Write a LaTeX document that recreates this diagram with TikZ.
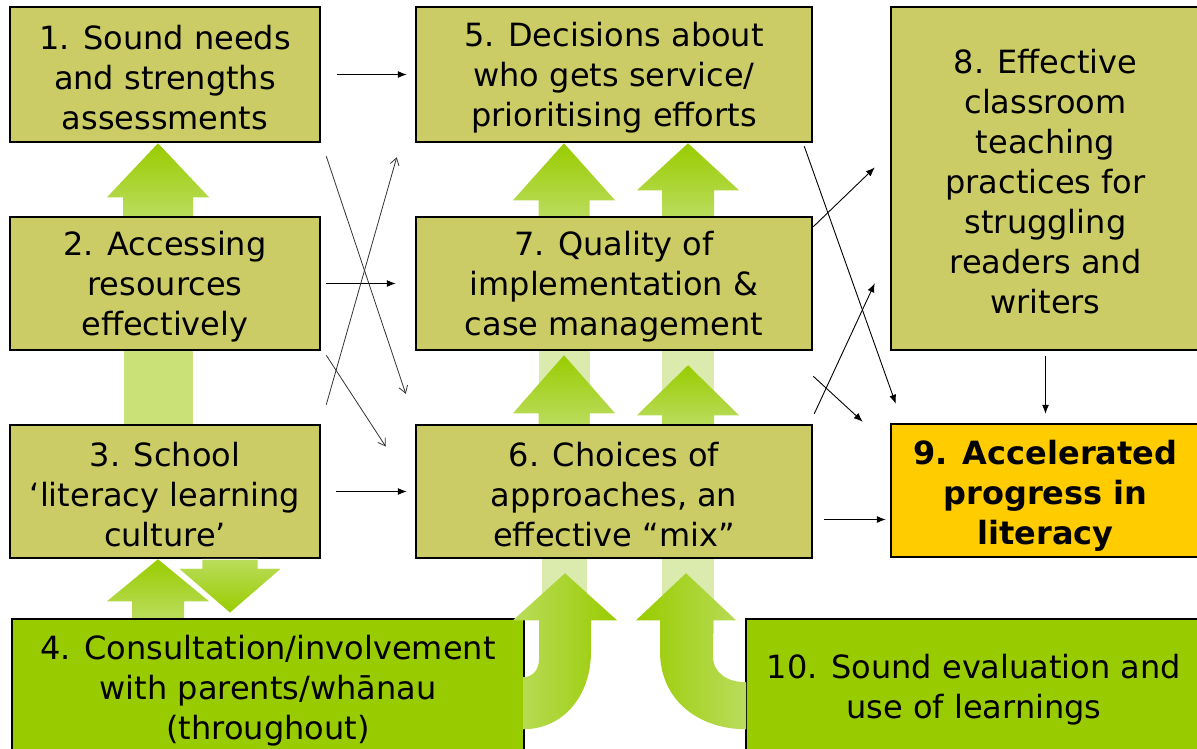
\documentclass[tikz,border=0pt]{standalone}
\usepackage{fontspec}
\setmainfont{DejaVu Sans}
\usepackage{xcolor}
\usepackage{tikz}
\usetikzlibrary{arrows.meta,calc,positioning}

\definecolor{boxolive}{HTML}{CCCC66}
\definecolor{boxgold}{HTML}{FFCC00}
\definecolor{boxgreen}{HTML}{99CC00}
\definecolor{arrowdark}{HTML}{99CC00}
\definecolor{arrowlight}{HTML}{BADC5C}
\definecolor{stripmid}{HTML}{DAEBAD}
\definecolor{stripleft}{HTML}{C9E177}

\newcommand{\boxfont}{\fontsize{32}{40}\selectfont}
\newcommand{\topgap}[1][30pt]{\rule{0pt}{#1}}
\newcommand{\fatarrow}[6]{%
	\path[#1] let \p1=(#2), \p2=(#3) in
	(\x1-#5pt,\y1) -- (\x1-#5pt,{\y2-(#4pt)}) -- (\x1-#6pt,{\y2-(#4pt)}) -- (\x1,\y2)
	-- (\x1+#6pt,{\y2-(#4pt)}) -- (\x1+#5pt,{\y2-(#4pt)}) -- (\x1+#5pt,\y1) -- cycle;}

\begin{document}
\begin{tikzpicture}[x=1pt, y=-1pt]
			\tikzstyle{box}=[draw=black, line width=2.5pt, fill=boxolive, align=center, inner sep=0pt, font=\boxfont]
			\tikzstyle{link}=[color=black, line width=0.9pt, -{Latex[length=9pt,width=7pt]}]
			\tikzstyle{cross}=[color=black!80, line width=0.8pt, -{Straight Barb[length=7pt,width=9pt]}]
			\tikzstyle{fatup}=[top color=arrowdark, bottom color=arrowlight]
			\tikzstyle{fatdown}=[top color=arrowlight, bottom color=arrowdark, draw=white, line width=0.8pt]
			\tikzstyle{uleft}=[left color=arrowlight, right color=arrowdark]
			\tikzstyle{uright}=[left color=arrowdark, right color=arrowlight]
			
			\useasboundingbox (0,0) rectangle (1197,748);
			
			\node[box, minimum width=310pt, minimum height=135pt] (1) at (165,74.5) {\topgap 1. Sound needs\\and strengths\\assessments};
			\node[box, minimum width=310pt, minimum height=133pt] (2) at (165,283.5) {\topgap 2. Accessing\\resources\\effectively};
			\node[box, minimum width=310pt, minimum height=133pt] (3) at (165,491.5) {\topgap 3. School\\‘literacy learning\\culture’};
			\node[box, fill=boxgreen, minimum width=512pt, minimum height=136pt] (4) at (268,687) {\topgap[31pt]4. Consultation/involvement\\with parents/whānau\\(throughout)};
			
			\node[box, minimum width=396pt, minimum height=135pt] (5) at (614,74.5) {\topgap 5. Decisions about\\who gets service/\\prioritising efforts};
			\node[box, minimum width=396pt, minimum height=133pt] (7) at (614,283.5) {\topgap 7. Quality of\\implementation \&\\case management};
			\node[box, minimum width=396pt, minimum height=133pt] (6) at (614,491.5) {\topgap 6. Choices of\\approaches, an\\effective “mix”};
			
			\node[box, minimum width=309pt, minimum height=343pt] (8) at (1045.5,178.5) {\topgap 8. Effective\\classroom\\teaching\\practices for\\struggling\\readers and\\writers};
			\node[box, fill=boxgold, font=\boxfont\bfseries, minimum width=309pt, minimum height=133pt] (9) at (1045.5,490.5) {\topgap[34pt]9. Accelerated\\progress in\\literacy};
			\node[box, fill=boxgreen, minimum width=456pt, minimum height=136pt] (10) at (974,687) {\topgap 10. Sound evaluation and\\use of learnings};
			
			\coordinate (cL) at (158,0);
			\coordinate (cD) at (230,0);
			\coordinate (cM1) at (564,0);
			\coordinate (cM2) at (688,0);
			
			\fill[stripleft] ($(cL |- 2.south)+(-34.5,0)$) rectangle ($(cL |- 3.north)+(34.5,0)$);
			\fill[stripmid] ($(cM1 |- 7.south)+(-25.5,0)$) rectangle ($(cM1 |- 6.north)+(25.5,0)$);
			\fill[stripmid] ($(cM2 |- 7.south)+(-26,0)$) rectangle ($(cM2 |- 6.north)+(26,0)$);
			\fill[stripmid] ($(cM1 |- 6.south)+(-22.5,0)$) rectangle ($(cM1 |- 6.south)+(22.5,75)$);
			\fill[stripmid] ($(cM2 |- 6.south)+(-26,0)$) rectangle ($(cM2 |- 6.south)+(26,75)$);
			
			\fatarrow{fatup}{cL |- 2.north}{cL |- 1.south}{54}{35}{51}
			\fatarrow{fatup}{cM1 |- 7.north}{cM1 |- 5.south}{57}{25.5}{51}
			\fatarrow{fatup}{cM2 |- 7.north}{cM2 |- 5.south}{47}{26}{51}
			\fatarrow{fatup}{cM1 |- 6.north}{$(cM1 |- 7.south)+(0,4)$}{58}{25.5}{51}
			\fatarrow{fatup}{cM2 |- 6.north}{$(cM2 |- 7.south)+(0,14)$}{50}{26}{51}
			\fatarrow{fatup}{cL |- 4.north}{cL |- 3.south}{42}{26}{51}
			\fatarrow{fatdown}{cD |- 3.south}{$(cD |- 3.south)+(0,54)$}{-45}{28}{52}
			
			\begin{scope}[shift={($(cM1 |- 6.south)+(1,14)$)}]
				\path[uleft] (-42,104) .. controls (-32,104) and (-26,96) .. (-26,86) -- (-26,47) -- (-52,47) -- (0,0)
				-- (52,47) -- (26,47) -- (26,78) .. controls (26,123) and (-2,156) .. (-42,156) -- cycle;
			\end{scope}
			\begin{scope}[shift={($(cM2 |- 6.south)+(-2,14)$)}]
				\path[uright] (60,109) .. controls (42,109) and (27,100) .. (27,83) -- (27,47) -- (50,47) -- (0,0)
				-- (-50,47) -- (-26,47) -- (-26,78) .. controls (-26,128) and (14,156) .. (60,156) -- cycle;
			\end{scope}
			
			\path[link]
			(1) edge[shorten <=16pt, shorten >=8pt] (5)
			(2) edge[shorten <=5pt, shorten >=19pt] (7)
			(3) edge[shorten <=15pt, shorten >=8pt] (6)
			($(6.east)+(11,28)$) edge ($(9.west)+(-4,29)$)
			(8) edge[shorten <=5pt, shorten >=9pt] (9)
			($(5.south east)+(-9,3)$) edge ($(9.north west)+(6,-19)$)
			($(7.north east)+(0,11)$) edge ($(8.west)+(-15,-11)$)
			($(6.north east)+(1,-10)$) edge ($(8.south west)+(-15,-68)$)
			($(7.south east)+(0,25)$) edge ($(9.north west)+(-27,-1)$)
			;
			
			\path[cross]
			($(1.south east)+(5,13)$) edge ($(6.north west)+(-9,-30)$)
			($(3.north east)+(5,-19)$) edge ($(5.south west)+(-18,14)$)
			($(2.south east)+(5,4)$) edge ($(6.west)+(-29,-45)$)
			;
\end{tikzpicture}
\end{document}
